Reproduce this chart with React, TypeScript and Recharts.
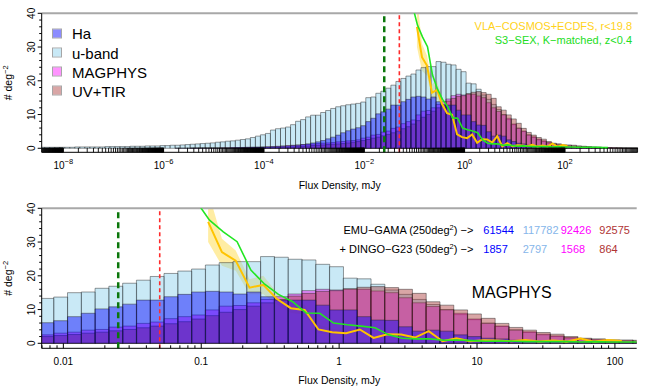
import { ComposedChart, Bar, Line, Area, XAxis, YAxis, ReferenceLine } from "recharts"

const FONT = '"Liberation Sans", Arial, Helvetica, sans-serif'

// histogram bins, 0.1 dex wide, centres in log10(S / mJy)
const firstBinCentre = -8.42
const binWidth = 0.1

const ubandCounts = [
  0.3, 0.3, 0.3, 0.3, 0.3, 0.3, 0.3, 0.4, 0.4, 0.4, 0.4, 0.4, 0.4, 0.5,
  0.5, 0.5, 0.5, 0.5, 0.6, 0.6, 0.6, 0.7, 0.7, 0.7,
  0.8, 0.8, 0.9, 0.9, 1.0, 1.1, 1.2, 1.3, 1.4, 1.5,
  1.6, 1.8, 1.9, 2.1, 2.2, 2.4, 2.6, 2.8, 3.2, 3.6,
  4.0, 4.4, 5.4, 5.8, 6.0, 6.3, 7.0, 8.0, 8.5, 9.3,
  9.8, 9.8, 10.6, 11.2, 11.8, 12.3, 12.6, 12.9, 13.1,
  13.3, 13.7, 15.0, 15.2, 16.3, 16.9, 17.8, 18.7, 19.8, 20.7, 21.4, 22.0, 23.2, 23.9, 24.2, 24.2, 25.7, 25.5, 24.9, 24.7, 23.4, 22.7,
  19.3, 19.1, 17.5, 15.8, 14.5, 13.0, 11.5, 10.0, 8.5, 7.0, 6.0, 5.0, 4.0, 3.2, 2.5, 2.0, 1.5, 1.1, 0.8, 0.6, 0.4,
  0.3, 0.3, 0.2, 0.2, 0.2, 0.1, 0.1, 0.1, 0.1, 0.1, 0.05, 0.05, 0.05, 0.05,
]

const haCounts = [
  0, 0, 0, 0, 0, 0, 0, 0, 0, 0, 0, 0, 0, 0, 0, 0, 0, 0, 0, 0, 0, 0, 0, 0,
  0, 0, 0, 0.05, 0.05, 0.05, 0.05, 0.1, 0.1, 0.1,
  0.1, 0.1, 0.1, 0.1, 0.15, 0.2, 0.2, 0.25, 0.3, 0.3,
  0.35, 0.4, 0.45, 0.5, 0.6, 0.7, 0.8, 0.9, 1.1, 1.3,
  1.6, 1.9, 2.3, 2.8, 3.3, 3.9, 4.6, 5.2, 5.7,
  6.1, 6.7, 7.9, 8.9, 10.2, 10.8, 11.6, 12.8, 12.8, 13.8, 14.5, 15.2, 15.4, 15.2, 14.6, 15.2, 13.8, 12.8, 12.8, 12.8, 11.3, 9.9,
  9.9, 7.9, 6.9, 6.8, 4.9, 3.6, 3.9, 3.6, 2.5, 2.0, 1.5, 1.3, 0.9, 0.8, 0.6, 0.5, 0.4, 0.3, 0.3, 0.2, 0.2,
  0.15, 0.1, 0.1, 0.1, 0.05, 0.05, 0.05, 0, 0, 0, 0, 0, 0, 0,
]

const magphysCounts = [
  0, 0, 0, 0, 0, 0, 0, 0, 0, 0, 0, 0, 0, 0, 0, 0, 0, 0, 0, 0, 0, 0, 0, 0, 0, 0, 0, 0, 0, 0,
  0.05, 0.05, 0.1, 0.1,
  0.1, 0.1, 0.15, 0.15, 0.2, 0.2, 0.25, 0.3, 0.3, 0.35,
  0.4, 0.45, 0.5, 0.6, 0.7, 0.8, 0.9, 1.0, 1.1, 1.2,
  1.3, 1.4, 1.5, 1.6, 1.7, 1.9, 2.0, 2.2, 2.3,
  2.5, 3.0, 3.3, 3.9, 4.1, 4.8, 5.1, 5.9, 6.3, 7.3, 7.9, 8.4, 9.9, 11.0, 11.2, 12.0, 13.0, 13.8, 14.6, 15.6, 16.0, 15.8,
  16.0, 16.0, 15.5, 15.0, 13.5, 12.0, 10.9, 9.9, 8.9, 7.2, 5.9, 5.1, 3.9, 3.4, 2.7, 2.2, 1.7, 1.3, 1.2, 0.9, 0.8,
  0.7, 0.6, 0.5, 0.4, 0.3, 0.3, 0.2, 0.2, 0.15, 0.1, 0.1, 0.05, 0.05, 0.05,
]

const uvtirCounts = [
  0, 0, 0, 0, 0, 0, 0, 0, 0, 0, 0, 0, 0, 0, 0, 0, 0, 0, 0, 0,
  0, 0, 0, 0, 0, 0, 0, 0, 0, 0, 0, 0, 0, 0, 0, 0, 0, 0, 0, 0,
  0.05, 0.05, 0.1, 0.1,
  0.1, 0.15, 0.2, 0.25, 0.3, 0.35, 0.4, 0.5, 0.6, 0.7,
  0.8, 0.9, 1.0, 1.1, 1.2, 1.3, 1.4, 1.6, 1.8,
  2.0, 2.3, 2.6, 3.0, 3.3, 3.7, 4.1, 4.6, 5.1, 5.8, 6.4, 7.2, 8.2, 9.2, 10.0, 11.0, 12.0, 13.0, 14.0, 14.8, 15.4, 15.6,
  16.2, 16.6, 16.8, 16.5, 16.0, 14.8, 12.3, 11.3, 9.9, 8.7, 7.4, 5.9, 4.7, 3.9, 3.2, 2.7, 2.0, 1.5, 1.3, 1.0, 1.0,
  0.9, 0.7, 0.6, 0.5, 0.4, 0.3, 0.25, 0.2, 0.15, 0.15, 0.1, 0.1, 0.05, 0.05,
]

// comparison counts, x in log10(S / mJy)
const vlaLogFlux = [
  -0.95, -0.85, -0.75, -0.65, -0.55, -0.45, -0.35, -0.25, -0.15, -0.05,
  0.05, 0.15, 0.25, 0.35, 0.45, 0.55, 0.65, 0.75, 0.85, 0.95,
  1.05, 1.15, 1.25, 1.35, 1.45, 1.55, 1.65, 1.75, 1.85, 1.95, 2.05,
]
const vlaCounts = [
  36, 27, 24.5, 16.5, 17.3, 13.1, 10.4, 9.9, 4.1, 3.3,
  3.0, 4.1, 1.6, 2.7, 2.6, 1.7, 3.6, 0.6, 1.5, 0.6,
  0.9, 0.8, 0.6, 1.0, 0.5, 0.8, 0.5, 1.4, 0.5, 1.0, 0.7,
]
const vlaLow = [
  30, 23, 21.5, 14.5, 14.5, 11.5, 9, 8.5, 3, 2.5,
  2.4, 3.4, 1.2, 2.2, 2.1, 1.3, 3.0, 0.4, 1.1, 0.4,
  0.6, 0.5, 0.4, 0.7, 0.3, 0.5, 0.3, 1.0, 0.3, 0.7, 0.5,
]
const vlaHigh = [
  45, 31, 27.5, 19, 20, 15, 12, 11.5, 5.5, 4.3,
  3.6, 4.8, 2.0, 3.2, 3.1, 2.1, 4.2, 0.8, 1.9, 0.8,
  1.2, 1.1, 0.8, 1.3, 0.7, 1.1, 0.7, 1.8, 0.7, 1.3, 0.9,
]

const s3LogFlux = [
  -1.04, -0.94, -0.84, -0.74, -0.64, -0.54, -0.44, -0.34, -0.24, -0.14,
  -0.04, 0.06, 0.16, 0.26, 0.36, 0.46, 0.56, 0.66, 0.76, 0.86,
  0.96, 1.06, 1.16, 1.26, 1.36, 1.46, 1.56, 1.66, 1.76, 1.86,
  1.96, 2.06, 2.16, 2.26, 2.36, 2.46, 2.56, 2.66, 2.76, 2.86,
]
const s3Counts = [
  42.3, 36.5, 33.0, 30.1, 21.7, 17.5, 14.5, 12.4, 9.0, 8.9,
  6.0, 5.5, 5.1, 4.6, 2.5, 1.5, 1.3, 1.3, 0.9, 1.0,
  0.8, 0.6, 0.7, 0.6, 0.5, 0.5, 0.5, 0.5, 0.4, 0.5,
  0.4, 0.4, 0.4, 0.3, 0.3, 0.3, 0.3, 0.3, 0.2, 0.2,
]

// survey flux limits, mJy
const emuLimit = 0.025
const dingoLimit = 0.05

// totals per series (Ha, u-band, MAGPHYS, UV+TIR)
const emuGamaTotals = [61544, 117782, 92426, 92575]
const dingoTotals = [1857, 2797, 1568, 864]

const yTicks = [0, 2, 4, 6, 8, 10, 12, 14, 16, 18, 20, 22, 24, 26, 28, 30, 32, 34, 36, 38, 40]

const histRows = ubandCounts.map((u, i) => ({
  x: Math.round((firstBinCentre + i * binWidth) * 100) / 100,
  u,
  ha: haCounts[i],
  mag: magphysCounts[i],
  uv: uvtirCounts[i],
}))
const vlaRows = vlaLogFlux.map((x, i) => ({ x, v: vlaCounts[i], band: [vlaLow[i], vlaHigh[i]] }))
const s3Rows = s3LogFlux.map((x, i) => ({ x, v: s3Counts[i] }))

// drawing order: back to front
const histStyles = [
  { key: "u", name: "u-band", fill: "#87CEEB", alpha: 0.45, text: "#86b6ea" },
  { key: "mag", name: "MAGPHYS", fill: "#FF00FF", alpha: 0.42, text: "#ff00ff" },
  { key: "uv", name: "UV+TIR", fill: "#A52A2A", alpha: 0.42, text: "#b03434" },
  { key: "ha", name: "Ha", fill: "#0000FF", alpha: 0.45, text: "#0000ff" },
]
const legendOrder = ["ha", "u", "mag", "uv"]

const W = 650
const H = 195
const PLOT_TOP = 13.3
const AXIS_W = 41.7
const Y_MAX = 40

const topDomain: [number, number] = [-8.43, 3.45]
const bottomDomain: [number, number] = [-2.157, 2.158]

const rugTicks: number[] = []
for (let e = -10; e <= 2; e += 2) {
  for (let k = 1; k <= 99; k++) {
    const v = e + Math.log10(k)
    if (v >= topDomain[0] && v <= topDomain[1]) rugTicks.push(v)
  }
}
const logTicks: number[] = []
for (let e = -3; e <= 2; e++) {
  for (let k = 1; k <= 9; k++) {
    const v = e + Math.log10(k)
    if (v >= bottomDomain[0] && v <= bottomDomain[1]) logTicks.push(v)
  }
}

const isDecade = (v: number) => Math.abs(v - Math.round(v)) < 1e-6

function RugTick(props: any) {
  const { x, y, payload } = props
  const v = payload.value
  const e = Math.round(v)
  const label = isDecade(v) && e % 2 === 0
  return (
    <g>
      <line x1={x} x2={x} y1={y} y2={y - 4.5} stroke="#000" strokeWidth={0.9} />
      {label && (
        <text x={x} y={y + 16.5} textAnchor="middle" fontSize={10} fontFamily={FONT} fill="#000">
          10
          <tspan dy={-4.5} fontSize={7.5}>{e < 0 ? `−${-e}` : e}</tspan>
        </text>
      )}
    </g>
  )
}

function LinTick(props: any) {
  const { x, y, payload } = props
  const v = payload.value
  const major = isDecade(v)
  const e = Math.round(v)
  const text = e < 0 ? (10 ** e).toFixed(-e) : String(10 ** e)
  return (
    <g>
      <line x1={x} x2={x} y1={y} y2={y - (major ? 5 : 3)} stroke="#000" strokeWidth={1} />
      {major && (
        <text x={x} y={y + 17} textAnchor="middle" fontSize={10} fontFamily={FONT} fill="#000">
          {text}
        </text>
      )}
    </g>
  )
}

function YTick(props: any) {
  const { x, y, payload } = props
  const v = payload.value
  const major = v % 10 === 0
  return (
    <g>
      <line x1={x} x2={x - (major ? 4 : 2.5)} y1={y} y2={y} stroke="#000" strokeWidth={1} />
      {major && (
        <text
          x={x - 6.5}
          y={y}
          transform={`rotate(-90, ${x - 6.5}, ${y})`}
          textAnchor="middle"
          fontSize={10}
          fontFamily={FONT}
          fill="#000"
        >
          {v}
        </text>
      )}
    </g>
  )
}

function YTitle(props: any) {
  const vb = props.viewBox || {}
  const cx = (vb.x ?? 0) + 12.5
  const cy = (vb.y ?? PLOT_TOP) + (vb.height ?? 139) / 2
  return (
    <text x={cx} y={cy} transform={`rotate(-90, ${cx}, ${cy})`} textAnchor="middle" fontSize={10.5} fontFamily={FONT} fill="#000">
      # deg
      <tspan dy={-4} fontSize={7.5}>−2</tspan>
    </text>
  )
}

type PanelProps = {
  rows: typeof histRows
  xDomain: [number, number]
  yMin: number
  xTicks: number[]
  xTick: (p: any) => any
  rightGap: number
  axisHeight: number
}

function Panel({ rows, xDomain, yMin, xTicks, xTick, rightGap, axisHeight }: PanelProps) {
  return (
    <ComposedChart
      width={W}
      height={H}
      data={rows}
      margin={{ top: PLOT_TOP, right: rightGap, bottom: 0, left: 0 }}
      barCategoryGap={0}
      barGap={0}
    >
      <XAxis
        xAxisId="main"
        dataKey="x"
        type="number"
        domain={xDomain}
        allowDataOverflow
        ticks={xTicks}
        interval={0}
        tick={xTick}
        tickLine={false}
        tickSize={0}
        tickMargin={0}
        height={axisHeight}
        axisLine={{ stroke: "#000" }}
        label={{ value: "Flux Density, mJy", position: "insideBottom", offset: 6, fontSize: 10.5, fill: "#000", fontFamily: FONT }}
      />
      {histStyles.map((s) => (
        <XAxis
          key={s.key}
          xAxisId={s.key}
          dataKey="x"
          type="number"
          domain={xDomain}
          allowDataOverflow
          hide
          height={0}
        />
      ))}
      <YAxis
        yAxisId="n"
        type="number"
        domain={[yMin, Y_MAX]}
        allowDataOverflow
        ticks={yTicks}
        interval={0}
        tick={YTick}
        tickLine={false}
        tickSize={0}
        tickMargin={0}
        width={AXIS_W}
        axisLine={{ stroke: "#000" }}
        label={{ content: YTitle }}
      />
      <YAxis
        yAxisId="frame"
        orientation="right"
        type="number"
        width={0}
        domain={[0, 1]}
        tick={false}
        tickLine={false}
        axisLine={{ stroke: "#a8a8a8", strokeWidth: 2 }}
      />
      {histStyles.map((s) => (
        <Bar
          key={s.key}
          xAxisId={s.key}
          yAxisId="n"
          dataKey={s.key}
          name={s.name}
          fill={s.fill}
          fillOpacity={s.alpha}
          stroke="#222"
          strokeOpacity={0.45}
          strokeWidth={1}
          isAnimationActive={false}
        />
      ))}
      <ReferenceLine xAxisId="main" yAxisId="n" y={Y_MAX} stroke="#a8a8a8" strokeWidth={2} />
      <ReferenceLine xAxisId="main" yAxisId="n" x={Math.log10(emuLimit)} stroke="#0b770b" strokeWidth={2.5} strokeDasharray="6 4" />
      <ReferenceLine xAxisId="main" yAxisId="n" x={Math.log10(dingoLimit)} stroke="#ff2a2a" strokeWidth={1.6} strokeDasharray="4 3" />
      <Area
        xAxisId="main"
        yAxisId="n"
        data={vlaRows}
        dataKey="band"
        stroke="none"
        fill="#ffd21a"
        fillOpacity={0.4}
        isAnimationActive={false}
      />
      <Line xAxisId="main" yAxisId="n" data={vlaRows} dataKey="v" stroke="#ffc400" strokeWidth={2} dot={false} isAnimationActive={false} />
      <Line xAxisId="main" yAxisId="n" data={s3Rows} dataKey="v" stroke="#22e622" strokeWidth={1.6} dot={false} isAnimationActive={false} />
    </ComposedChart>
  )
}

const abs = (left: number, top: number, extra: any = {}) => ({
  position: "absolute" as const,
  left,
  top,
  transform: "translateY(-50%)",
  whiteSpace: "nowrap" as const,
  lineHeight: 1,
  fontFamily: FONT,
  ...extra,
})

export default function App() {
  const bottomRows = histRows.filter((r) => r.x > bottomDomain[0] - 0.05 && r.x < bottomDomain[1] + 0.05)
  const numberLefts = [483.3, 522.7, 560.7, 599.3]
  return (
    <div style={{ position: "absolute", left: 0, top: 0, width: W, height: 2 * H, background: "#fff" }}>
      <div style={{ position: "relative", width: W, height: H }}>
        <Panel rows={histRows} xDomain={topDomain} yMin={-1.19} xTicks={rugTicks} xTick={RugTick} rightGap={12.3} axisHeight={42.7} />
        {legendOrder.map((k, i) => {
          const s = histStyles.find((h) => h.key === k)!
          return (
            <div key={k} style={abs(52, 33.3 + i * 19.2, { display: "flex", alignItems: "center" })}>
              <span style={{ position: "relative", width: 8, height: 8, border: "1px solid rgba(0,0,0,0.35)", display: "inline-block" }}>
                <span style={{ position: "absolute", inset: 0, background: s.fill, opacity: s.alpha }} />
              </span>
              <span style={{ marginLeft: 10, fontSize: 15, color: "#000" }}>{s.name}</span>
            </div>
          )
        })}
        <div style={{ ...abs(0, 25.5, { fontSize: 11, color: "#ffd21a" }), left: "auto", right: 18 }}>VLA−COSMOS+ECDFS, r&lt;19.8</div>
        <div style={{ ...abs(0, 39.5, { fontSize: 11, color: "#22dd22" }), left: "auto", right: 18 }}>S3−SEX, K−matched, z&lt;0.4</div>
      </div>
      <div style={{ position: "relative", width: W, height: H }}>
        <Panel rows={bottomRows} xDomain={bottomDomain} yMin={-1.48} xTicks={logTicks} xTick={LinTick} rightGap={13.3} axisHeight={41.7} />
        <div style={{ ...abs(0, 35, { fontSize: 11, color: "#000" }), left: "auto", right: W - 473.3 }}>
          EMU−GAMA (250deg<sup style={{ fontSize: 7.5 }}>2</sup>) −&gt;
        </div>
        <div style={{ ...abs(0, 54, { fontSize: 11, color: "#000" }), left: "auto", right: W - 473.3 }}>
          + DINGO−G23 (50deg<sup style={{ fontSize: 7.5 }}>2</sup>) −&gt;
        </div>
        {legendOrder.map((k, i) => {
          const s = histStyles.find((h) => h.key === k)!
          return (
            <div key={"e" + k} style={abs(numberLefts[i], 35, { fontSize: 11, color: s.text })}>
              {emuGamaTotals[i]}
            </div>
          )
        })}
        {legendOrder.map((k, i) => {
          const s = histStyles.find((h) => h.key === k)!
          return (
            <div key={"d" + k} style={abs(numberLefts[i], 54, { fontSize: 11, color: s.text })}>
              {dingoTotals[i]}
            </div>
          )
        })}
        <div style={abs(471.7, 98.3, { fontSize: 16, color: "#000" })}>MAGPHYS</div>
      </div>
    </div>
  )
}
